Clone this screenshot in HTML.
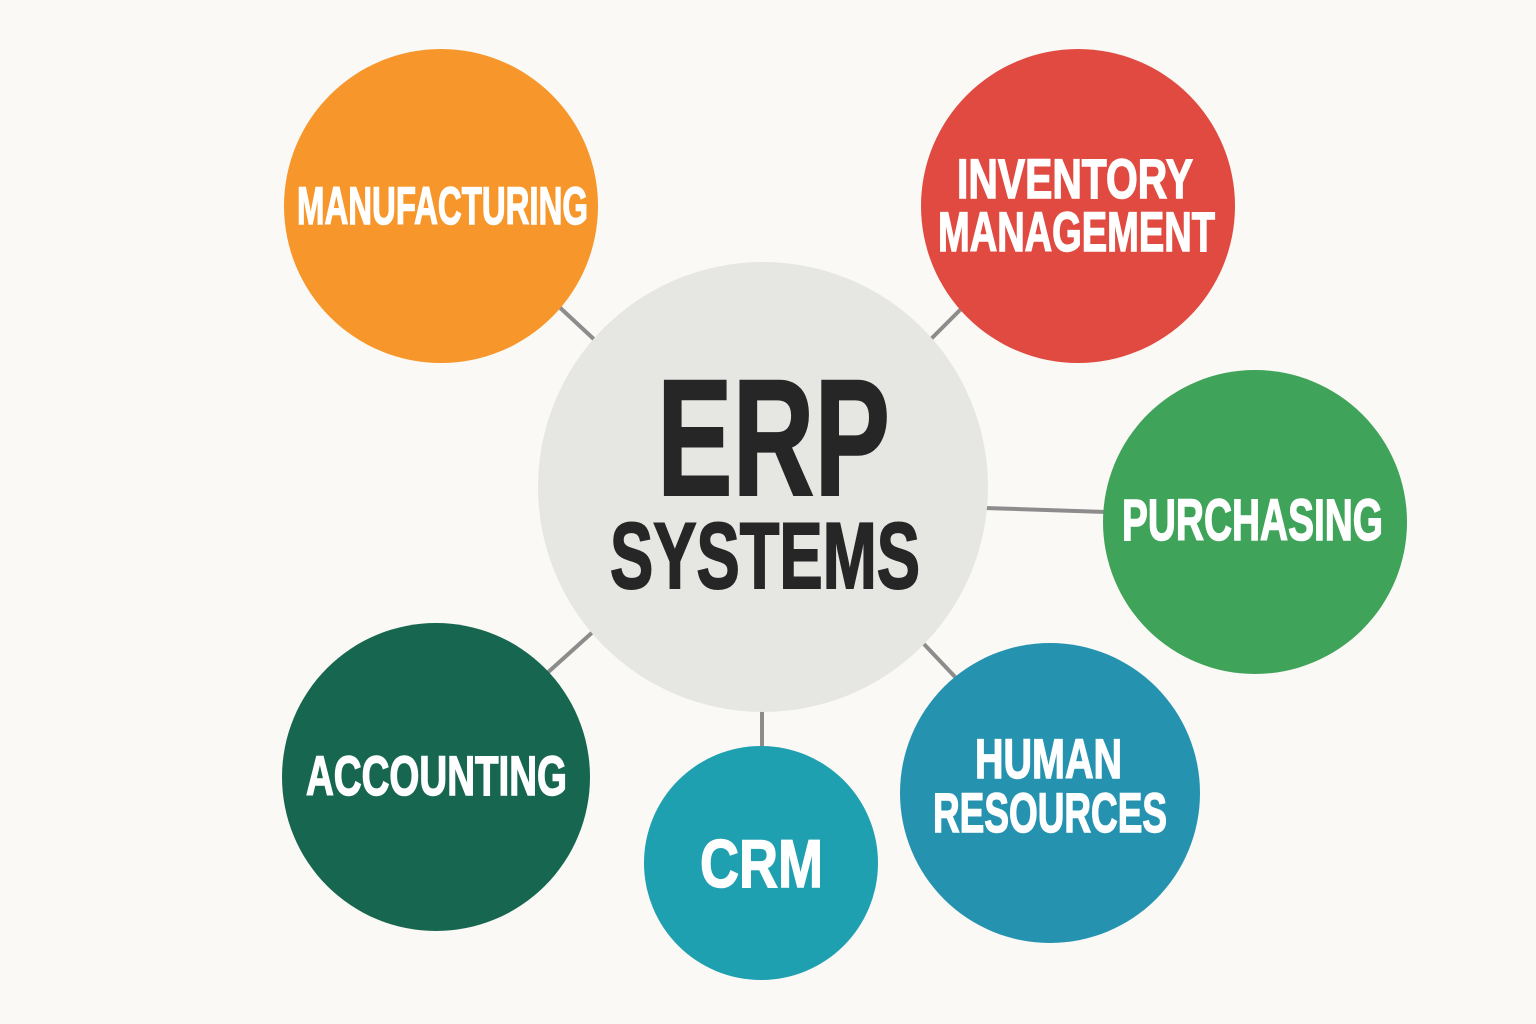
<!DOCTYPE html>
<html><head><meta charset="utf-8"><style>
html,body{margin:0;padding:0;background:#faf9f5;}
svg{display:block;}
text{font-family:"Liberation Sans Narrow","Liberation Sans",sans-serif;font-weight:bold;}
</style></head><body>
<svg width="1536" height="1024" viewBox="0 0 1536 1024" xmlns="http://www.w3.org/2000/svg">
<rect width="1536" height="1024" fill="#faf9f5"/>
<g stroke="#8c8c8c" stroke-width="4">
<line x1="555" y1="303" x2="598" y2="343"/>
<line x1="930" y1="340" x2="966" y2="304"/>
<line x1="985" y1="508" x2="1106" y2="512"/>
<line x1="922" y1="642" x2="958" y2="680"/>
<line x1="762" y1="710" x2="762" y2="748"/>
<line x1="595" y1="630" x2="545" y2="675"/>
</g>
<circle cx="763" cy="487" r="225" fill="#e6e6e3"/>
<circle cx="441" cy="206" r="157" fill="#f7962a"/>
<circle cx="1078" cy="206" r="157" fill="#e04a40"/>
<circle cx="1255" cy="522" r="152" fill="#40a35a"/>
<circle cx="1050" cy="793" r="150" fill="#2593b0"/>
<circle cx="761" cy="863" r="117" fill="#1fa0b0"/>
<circle cx="436" cy="777" r="154" fill="#166650"/>
<g fill="#262626" stroke="#262626" stroke-width="2">
<text x="657" y="495" font-size="166" textLength="233" lengthAdjust="spacingAndGlyphs">ERP</text>
<text x="610" y="588" font-size="94" textLength="310" lengthAdjust="spacingAndGlyphs">SYSTEMS</text>
</g>
<g fill="#ffffff" stroke="#ffffff" stroke-width="1.5">
<text x="297" y="224" font-size="53" textLength="291" lengthAdjust="spacingAndGlyphs">MANUFACTURING</text>
<text x="957" y="198" font-size="56" textLength="236" lengthAdjust="spacingAndGlyphs">INVENTORY</text>
<text x="938" y="251" font-size="56" textLength="277" lengthAdjust="spacingAndGlyphs">MANAGEMENT</text>
<text x="1122" y="540" font-size="58" textLength="261" lengthAdjust="spacingAndGlyphs">PURCHASING</text>
<text x="975" y="778" font-size="56" textLength="147" lengthAdjust="spacingAndGlyphs">HUMAN</text>
<text x="933" y="832" font-size="56" textLength="234" lengthAdjust="spacingAndGlyphs">RESOURCES</text>
<text x="306" y="795" font-size="56" textLength="261" lengthAdjust="spacingAndGlyphs">ACCOUNTING</text>
<text x="700" y="887" font-size="68" textLength="123" lengthAdjust="spacingAndGlyphs">CRM</text>
</g>
</svg>
</body></html>
